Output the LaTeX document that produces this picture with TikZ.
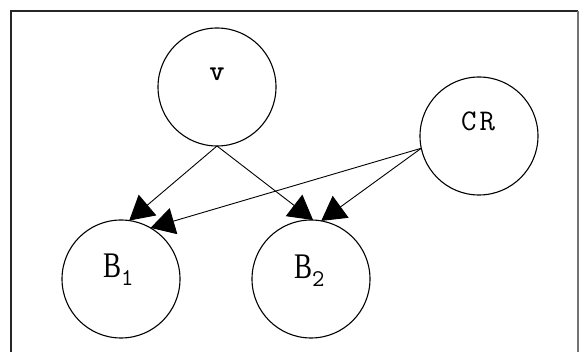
\documentclass[tikz,border=0pt]{standalone}
\usepackage{fontspec}
\setmainfont{Liberation Serif}
\newfontfamily\narrowf[FakeStretch=0.75]{Liberation Serif}
\usetikzlibrary{arrows.meta}
\tikzset{
  circnode/.style={draw=black, circle, line width=1.1pt, minimum size=118pt, inner sep=0pt, outer sep=0pt},
  txt/.style={inner sep=0pt, outer sep=0pt, anchor=base},
  txtw/.style={inner sep=0pt, outer sep=0pt, anchor=base west},
  conn/.style={line width=0.9pt, -{Triangle[length=24pt,width=27pt]}, shorten >=0pt},
  frame/.style={line width=2pt, black!85}
}
\begin{document}
\begin{tikzpicture}[x=1pt,y=-1pt]
\useasboundingbox (0,0) rectangle (579,352);
\fill[white] (0,0) rectangle (579,352);
% frame
\coordinate (fTL) at (11,11);
\coordinate (fTR) at (578,11);
\coordinate (fBL) at (11,352);
\coordinate (fBR) at (578,352);
\draw[frame] (fBL) -- (fTL) -- (fTR);
\draw[line width=1.5pt, black!55] (fTR) -- (fBR);
% circles
\node[circnode] (v) at (217,87) {};
\node[circnode] (CR) at (479,136) {};
\node[circnode] (B1) at (121,279) {};
\node[circnode] (B2) at (311,279) {};
% labels
\node[txt] (vt) at (217,81) {\ttfamily\bfseries\fontsize{29}{29}\selectfont v};
\node[txt] (CRt) at (478,131) {\ttfamily\fontsize{30}{30}\selectfont C\kern3pt R};
\node[txtw] (B1t) at (103,278) {\narrowf\fontsize{36}{36}\selectfont B\raisebox{-8pt}{\ttfamily\fontsize{24}{24}\selectfont 1}};
\node[txtw] (B2t) at (294,279) {\narrowf\fontsize{36}{36}\selectfont B\raisebox{-8pt}{\ttfamily\fontsize{24}{24}\selectfont 2}};
% connectors
\draw[conn] (v.south) -- (B1.82);
\draw[conn] (v.south) -- (B2.88);
\draw[conn] (CR.192) -- (B1.60);
\draw[conn] (CR.192) -- (B2.80);
\end{tikzpicture}
\end{document}
